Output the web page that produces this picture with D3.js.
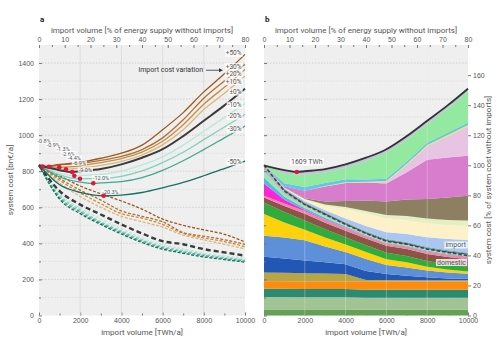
<!DOCTYPE html>
<html lang="en">
<head>
<meta charset="utf-8">
<title>System cost vs import volume</title>
<script src="https://cdn.jsdelivr.net/npm/d3@7"></script>
<style>
body { margin: 0; background: #fff; }
svg { font-family: Roboto, "Open Sans", sans-serif; }
svg text { fill: #555; }
.tick line { stroke: #777; }
</style>
</head>
<body>
<script>
// ---------- data ----------
var importTWh = [0, 1000, 2000, 3000, 4000, 5000, 6000, 7000, 8000, 9000, 10000];
var costTicks = [0, 200, 400, 600, 800, 1000, 1200, 1400];
var twhTicks = [0, 2000, 4000, 6000, 8000, 10000];
var pctTopTicks = [0, 10, 20, 30, 40, 50, 60, 70, 80];
var shareTicks = [0, 20, 40, 60, 80, 100, 120, 140, 160];
var baseCost = 833; // bn EUR/a without imports (= 100 %)

var scenarioNames = ["+50%", "+30%", "+20%", "+10%", "±0%", "-10%", "-20%", "-30%", "-50%"];
var scenarioColors = ["#9a5a1e", "#b0712c", "#c68c44", "#dcb57a", "#3b3b3b", "#b8e8da", "#80d1b9", "#3fa88f", "#17705f"];

// total system cost (solid)
var solidP50 = [833, 838, 850, 872, 900, 945, 1030, 1125, 1240, 1340, 1448];
var solidP30 = [833, 835, 843, 860, 882, 920, 985, 1085, 1205, 1300, 1393];
var solidP20 = [833, 822, 830, 848, 870, 906, 966, 1058, 1172, 1266, 1365];
var solidP10 = [833, 814, 818, 833, 855, 890, 946, 1030, 1142, 1232, 1328];
var solid0   = [833, 806, 800, 812, 838, 875, 922, 995, 1080, 1165, 1258];
var solidM10 = [833, 790, 777, 782, 800, 835, 880, 945, 1022, 1098, 1176];
var solidM20 = [833, 780, 758, 760, 772, 802, 848, 905, 975, 1045, 1115];
var solidM30 = [833, 768, 740, 735, 742, 765, 805, 858, 920, 985, 1050];
var solidM50 = [833, 725, 683, 666, 668, 682, 708, 738, 775, 815, 856];

// domestic system cost (dashed)
var dashP50 = [833, 775, 718, 675, 635, 590, 535, 500, 475, 450, 408];
var dashP30 = [833, 760, 695, 640, 580, 550, 520, 460, 440, 420, 395];
var dashP20 = [833, 750, 680, 620, 565, 540, 505, 455, 430, 410, 382];
var dashP10 = [833, 735, 660, 600, 550, 520, 490, 445, 420, 395, 370];
var dash0   = [833, 690, 615, 560, 505, 455, 412, 395, 368, 350, 332];
var dashM10 = [833, 675, 595, 535, 480, 430, 392, 370, 345, 330, 318];
var dashM20 = [833, 665, 585, 520, 468, 420, 382, 360, 338, 322, 308];
var dashM30 = [833, 655, 575, 512, 460, 412, 375, 352, 332, 316, 302];
var dashM50 = [833, 645, 565, 505, 452, 405, 368, 345, 325, 310, 296];

// cost optimum of each scenario
var minTWh = [180, 485, 985, 1310, 1609, 1714, 1990, 2636, 3140];
var minCost = [826, 825, 822, 811, 796, 775, 758, 733, 664];
var minLabels = ["-0.8%", "-0.9%", "-1.3%", "-2.6%", "-4.4%", "-6.9%", "-9.0%", "-12.0%", "-20.3%"];

// stacked cost composition in % of system cost without imports (bottom to top)
var domGreen      = [4, 4, 4, 4, 4, 3.8, 3.8, 3.8, 3.8, 3.8, 3.8];
var domSage       = [8.3, 8.3, 8.2, 8.2, 8.2, 8, 8, 8, 8, 8, 8];
var domTeal       = [5.5, 5.5, 5.5, 5.5, 5.5, 5.3, 5.3, 5.3, 5.3, 5.3, 5.3];
var domOrange     = [5, 5, 5, 5, 5, 5.3, 5.5, 5.5, 5.5, 5.5, 5.5];
var domOlive      = [5.8, 5.6, 5.4, 5.2, 5, 1.2, 1, 0.9, 0.8, 0.8, 0.8];
var domDarkBlue   = [10.5, 9.5, 8.5, 7.5, 6.5, 6, 4, 3, 2, 1.2, 1];
var domBlue       = [14, 14, 13.5, 10.5, 8, 8, 6, 5.5, 4.5, 4, 3.4];
var domYellow     = [14.4, 10, 7, 6, 5, 4.6, 3.8, 3.4, 2.5, 2, 1.5];
var domGreen2     = [7.8, 7, 6.2, 5.5, 4.9, 4.6, 4.4, 4.2, 3.8, 3.5, 3.2];
var domBrown      = [3.3, 4, 4.4, 4.4, 4.4, 4.5, 4.6, 4.7, 4.8, 4.9, 5];
var domPink       = [1.2, 1.6, 1.8, 1.8, 1.7, 1.6, 1.6, 1.6, 1.6, 1.6, 1.6];
var domMagenta    = [8, 2.5, 0.8, 0.3, 0.2, 0, 0, 0, 0, 0, 0];
var domCyan       = [4, 2, 1.2, 1.1, 0.8, 0.6, 0.5, 0.5, 0.6, 0.5, 0.5];
var domLightGreen = [4, 1.8, 1.2, 1.1, 0.7, 0.6, 0.5, 0.5, 0.5, 0.5, 0.4];
var domGray       = [4.2, 2, 1.1, 1.1, 0.7, 0.5, 0.5, 0.5, 0.5, 0.4, 0.4];
var impDark       = [0, 0.8, 0.8, 0.8, 0.8, 0.8, 0.8, 0.8, 0.8, 0.8, 0.8];
var impTeal       = [0, 0.6, 0.6, 0.6, 0.6, 0.6, 0.6, 0.6, 0.6, 0.6, 0.6];
var impLightBlue  = [0, 0.5, 1, 1.5, 2.5, 3.5, 4.5, 5.5, 6.5, 7.5, 8.5];
var impCream      = [0, 0.3, 1, 3, 6.5, 8.5, 9.5, 9.5, 9.5, 9.5, 9.5];
var impPaleGreen  = [0, 0, 0.3, 0.8, 1.2, 1.6, 2, 2.5, 3, 3.2, 3.5];
var impKhaki      = [0, 0, 0.5, 2, 4, 7, 9, 11, 13, 15, 16.5];
var impOrchid     = [0, 1, 5, 10, 12, 12, 12, 18, 26, 26.5, 26.5];
var impThistle    = [0, 0, 0, 0, 0, 0, 1, 5, 9, 14, 19.5];
var impYellow     = [0, 0, 0, 0.3, 0.5, 0.5, 0.7, 0.8, 0.9, 1, 1];
var impCyan       = [0, 2, 2.5, 2, 2, 1.5, 1.5, 1.5, 1.5, 1.5, 1.5];
var impLightGreen = [0, 6.3, 8, 7, 7.7, 12.2, 17.3, 14.6, 12.5, 16.1, 21];
var impGray       = [0, 2.5, 2.5, 2.2, 2.2, 2.2, 2.2, 2.2, 2.2, 2.2, 2.2];

var solidSeries = [solidP50, solidP30, solidP20, solidP10, solid0, solidM10, solidM20, solidM30, solidM50];
var dashSeries = [dashP50, dashP30, dashP20, dashP10, dash0, dashM10, dashM20, dashM30, dashM50];

var layers = [
    ["domGreen", domGreen, "#64a055"], ["domSage", domSage, "#a2c394"], ["domTeal", domTeal, "#2a8a74"],
    ["domOrange", domOrange, "#fd8c0e"], ["domOlive", domOlive, "#b8a544"], ["domDarkBlue", domDarkBlue, "#2257b5"],
    ["domBlue", domBlue, "#5e90da"], ["domYellow", domYellow, "#fdd20c"], ["domGreen2", domGreen2, "#30ac3c"],
    ["domBrown", domBrown, "#8c5447"], ["domPink", domPink, "#f384a7"], ["domMagenta", domMagenta, "#ff22d8"],
    ["domCyan", domCyan, "#52bde0"], ["domLightGreen", domLightGreen, "#9de6a6"], ["domGray", domGray, "#b3bccd"],
    ["impDark", impDark, "#5c5c5c"], ["impTeal", impTeal, "#4caa9c"], ["impLightBlue", impLightBlue, "#aac6f1"],
    ["impCream", impCream, "#fdf1ca"], ["impPaleGreen", impPaleGreen, "#e4efc2"], ["impKhaki", impKhaki, "#8d8062"],
    ["impOrchid", impOrchid, "#d87ccd"], ["impThistle", impThistle, "#e7c3e4"], ["impYellow", impYellow, "#f1e36c"],
    ["impCyan", impCyan, "#60c8e4"], ["impLightGreen", impLightGreen, "#93e9a0"], ["impGray", impGray, "#bcc4d6"]
];

// ---------- layout ----------
var w = 500, h = 352;
var plotTop = 45, plotBottom = 315.5;
var svg = d3.select("body").append("svg").attr("width", w).attr("height", h);

var yCost = d3.scaleLinear().domain([0, 1500]).range([plotBottom, plotTop]);
var yShare = d3.scaleLinear().domain([0, 1500 / baseCost * 100]).range([plotBottom, plotTop]);
var intFmt = d3.format("d");

function styleTicks(g) {
    g.selectAll(".domain").remove();
    g.selectAll(".tick text").style("font-size", "7px").style("fill", "#555");
}

function panel(x0, x1, letter) {
    var p = {};
    p.x = d3.scaleLinear().domain([0, 10000]).range([x0, x1]);
    p.xPct = d3.scaleLinear().domain([0, 80]).range([x0, x1]);
    p.g = svg.append("g");
    p.g.append("rect").attr("x", x0).attr("y", plotTop).attr("width", x1 - x0).attr("height", plotBottom - plotTop).attr("fill", "#efefef");
    // horizontal dotted grid
    p.g.selectAll(".hgrid").data(d3.range(100, 1500, 100)).enter().append("line")
        .attr("x1", x0).attr("x2", x1)
        .attr("y1", function(d) { return yCost(d); }).attr("y2", function(d) { return yCost(d); })
        .attr("stroke", function(d) { return d % 200 == 0 ? "#bdbdbd" : "#d4d4d4"; })
        .attr("stroke-width", 0.6).attr("stroke-dasharray", "1.5,1.5");
    // axes
    p.g.append("g").attr("transform", "translate(0," + plotBottom + ")")
        .call(d3.axisBottom(p.x).tickValues(twhTicks).tickSize(-3).tickPadding(3).tickFormat(intFmt));
    p.g.append("g").attr("transform", "translate(0," + plotBottom + ")")
        .call(d3.axisBottom(p.x).tickValues(d3.range(1000, 10000, 2000)).tickSize(-2).tickFormat(""));
    p.g.append("g").attr("transform", "translate(0," + plotTop + ")")
        .call(d3.axisTop(p.xPct).tickValues(pctTopTicks).tickSize(-3).tickPadding(3).tickFormat(intFmt));
    p.g.append("g").attr("transform", "translate(0," + plotTop + ")")
        .call(d3.axisTop(p.xPct).tickValues(d3.range(5, 80, 10)).tickSize(-2).tickFormat(""));
    styleTicks(p.g);

    svg.append("text").attr("x", (x0 + x1) / 2).attr("y", 335).attr("text-anchor", "middle")
        .style("font-size", "8px").text("import volume [TWh/a]");
    svg.append("text").attr("x", (x0 + x1) / 2).attr("y", 33).attr("text-anchor", "middle")
        .style("font-size", "8px").text("import volume [% of energy supply without imports]");
    svg.append("text").attr("x", x0 + 1).attr("y", 22).style("font-size", "8px")
        .style("font-weight", "bold").style("fill", "#222").text(letter);
    return p;
}

function vgrid(p, color) {
    p.g.selectAll(".vgrid").data(d3.range(2000, 10000, 2000)).enter().append("line")
        .attr("x1", function(d) { return p.x(d); }).attr("x2", function(d) { return p.x(d); })
        .attr("y1", plotTop).attr("y2", plotBottom).attr("stroke", color).attr("stroke-width", 0.7);
}

function boxedText(g, x, y, str, anchor, size) {
    var t = g.append("text").attr("x", x).attr("y", y).attr("text-anchor", anchor)
        .attr("dominant-baseline", "central").style("font-size", size + "px").text(str);
    var b = t.node().getBBox();
    g.insert("rect", function() { return t.node(); })
        .attr("x", b.x - 1).attr("y", b.y + 0.5).attr("width", b.width + 2).attr("height", b.height - 1)
        .attr("fill", "#fff").attr("opacity", 0.8);
    return t;
}

// ---------- panel a ----------
var pa = panel(39, 245, "a");
vgrid(pa, "#d6d6d6");
pa.g.append("g").attr("transform", "translate(39,0)")
    .call(d3.axisLeft(yCost).tickValues(costTicks).tickSize(-3).tickPadding(5).tickFormat(intFmt));
pa.g.append("g").attr("transform", "translate(39,0)")
    .call(d3.axisLeft(yCost).tickValues(d3.range(100, 1500, 200)).tickSize(-2).tickFormat(""));
styleTicks(pa.g);
svg.append("text").attr("transform", "translate(13,180) rotate(-90)").attr("text-anchor", "middle")
    .style("font-size", "8px").text("system cost [bn€/a]");

var lineA = d3.line().x(function(d) { return pa.x(d[0]); }).y(function(d) { return yCost(d[1]); })
    .curve(d3.curveMonotoneX);

var drawOrder = [3, 2, 1, 0, 5, 6, 7, 8, 4];
drawOrder.forEach(function(i) {
    var pts = importTWh.map(function(x, k) { return [x, dashSeries[i][k]]; });
    pa.g.append("path").attr("d", lineA(pts)).attr("fill", "none")
        .attr("stroke", scenarioColors[i])
        .attr("stroke-width", i == 4 ? 2.4 : 1.3)
        .attr("stroke-dasharray", i == 4 ? "5,3" : "3,1.6");
});
drawOrder.forEach(function(i) {
    var pts = importTWh.map(function(x, k) { return [x, solidSeries[i][k]]; })
        .filter(function(d) { return Math.abs(d[0] - minTWh[i]) > 150; });
    pts.push([minTWh[i], minCost[i]]);
    pts.sort(function(a, b) { return a[0] - b[0]; });
    pa.g.append("path").attr("d", lineA(pts)).attr("fill", "none")
        .attr("stroke", scenarioColors[i]).attr("stroke-width", i == 4 ? 2 : 1.3);
});

// optimum markers and labels
var minLabelTWh = [250, 690, 1170, 1420, 1710, 1960, 2250, 3010, 3471];
var minLabelCost = [966, 946, 924, 898, 874, 846, 808, 764, 686];
minLabels.forEach(function(s, i) {
    boxedText(pa.g, pa.x(minLabelTWh[i]), yCost(minLabelCost[i]), s, "middle", 5.5);
});
pa.g.selectAll(".opt").data(minTWh).enter().append("circle")
    .attr("cx", function(d) { return pa.x(d); })
    .attr("cy", function(d, i) { return yCost(minCost[i]); })
    .attr("r", 2.3).attr("fill", "#e4123e");

// end labels
var endLabelCost = [1454, 1380, 1340, 1297, 1239, 1167, 1105, 1033, 852];
scenarioNames.forEach(function(s, i) {
    boxedText(pa.g, 241.5, yCost(endLabelCost[i]), s, "end", 6.5);
});
var arrowY = yCost(1360);
pa.g.append("text").attr("x", 203).attr("y", arrowY).attr("text-anchor", "end")
    .attr("dominant-baseline", "central").style("font-size", "7px").style("fill", "#333")
    .text("import cost variation");
pa.g.append("line").attr("x1", 206).attr("x2", 219).attr("y1", arrowY).attr("y2", arrowY)
    .attr("stroke", "#333").attr("stroke-width", 0.8);
pa.g.append("path").attr("d", "M219," + (arrowY - 2) + "L223," + arrowY + "L219," + (arrowY + 2) + "Z")
    .attr("fill", "#333");

// ---------- panel b ----------
var pb = panel(264, 468, "b");
var rows = importTWh.map(function(x, k) {
    var r = { twh: x };
    layers.forEach(function(l) { r[l[0]] = l[1][k]; });
    return r;
});
var stack = d3.stack().keys(layers.map(function(l) { return l[0]; }))(rows);
var area = d3.area().x(function(d) { return pb.x(d.data.twh); })
    .y0(function(d) { return yShare(d[0]); }).y1(function(d) { return yShare(d[1]); });
pb.g.selectAll(".layer").data(stack).enter().append("path")
    .attr("d", area).attr("fill", function(d, i) { return layers[i][2]; });
vgrid(pb, "rgba(235,235,235,0.45)");

var lineB = d3.line().x(function(d) { return pb.x(d[0]); }).y(function(d) { return yCost(d[1]); });
var totalPts = importTWh.map(function(x, k) { return [x, solid0[k]]; })
    .filter(function(d) { return Math.abs(d[0] - minTWh[4]) > 150; });
totalPts.push([minTWh[4], minCost[4]]);
totalPts.sort(function(a, b) { return a[0] - b[0]; });
pb.g.append("path").attr("d", lineB.curve(d3.curveMonotoneX)(totalPts)).attr("fill", "none")
    .attr("stroke", "#333").attr("stroke-width", 1.8);
pb.g.append("path").attr("d", lineB.curve(d3.curveLinear)(importTWh.map(function(x, k) { return [x, dash0[k]]; })))
    .attr("fill", "none").attr("stroke", "#444").attr("stroke-width", 1.6).attr("stroke-dasharray", "3.5,2");
pb.g.append("circle").attr("cx", pb.x(minTWh[4])).attr("cy", yCost(minCost[4])).attr("r", 2.2).attr("fill", "#e4123e");
boxedText(pb.g, pb.x(minTWh[4]) + 10, yCost(minCost[4]) - 10, "1609 TWh", "middle", 7);
boxedText(pb.g, 466, 245, "import", "end", 7);
boxedText(pb.g, 466, 262.5, "domestic", "end", 7);

pb.g.append("g").attr("transform", "translate(468,0)")
    .call(d3.axisRight(yShare).tickValues(shareTicks).tickSize(3).tickPadding(2));
pb.g.append("g").attr("transform", "translate(264,0)")
    .call(d3.axisLeft(yCost).tickValues(costTicks).tickSize(-3).tickFormat(""));
pb.g.append("g").attr("transform", "translate(264,0)")
    .call(d3.axisLeft(yCost).tickValues(d3.range(100, 1500, 200)).tickSize(-2).tickFormat(""));
styleTicks(pb.g);
svg.append("text").attr("transform", "translate(491,180) rotate(-90)").attr("text-anchor", "middle")
    .style("font-size", "8px").text("system cost [% of system cost without imports]");
</script>
</body>
</html>
